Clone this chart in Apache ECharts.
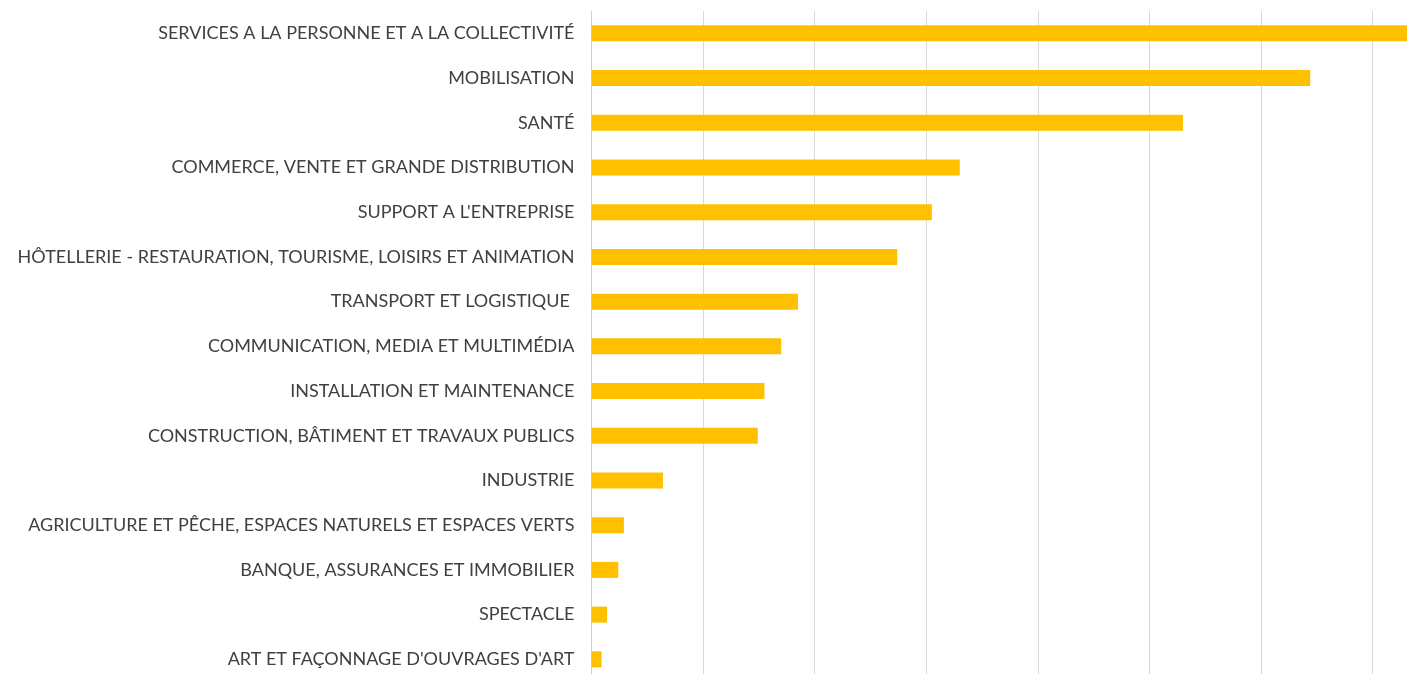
<!DOCTYPE html>
<html>
<head>
<meta charset="utf-8">
<script src="https://cdn.jsdelivr.net/npm/echarts@6/dist/echarts.min.js"></script>
<style>
html,body{margin:0;padding:0;background:#fff;}
#chart{width:1407px;height:674px;}
</style>
</head>
<body>
<div id="chart"></div>
<script>
const categories = [
  "SERVICES A LA PERSONNE ET A LA COLLECTIVITÉ",
  "MOBILISATION",
  "SANTÉ",
  "COMMERCE, VENTE ET GRANDE DISTRIBUTION",
  "SUPPORT A L'ENTREPRISE",
  "HÔTELLERIE - RESTAURATION, TOURISME, LOISIRS ET ANIMATION",
  "TRANSPORT ET LOGISTIQUE ",
  "COMMUNICATION, MEDIA ET MULTIMÉDIA",
  "INSTALLATION ET MAINTENANCE",
  "CONSTRUCTION, BÂTIMENT ET TRAVAUX PUBLICS",
  "INDUSTRIE",
  "AGRICULTURE ET PÊCHE, ESPACES NATURELS ET ESPACES VERTS",
  "BANQUE, ASSURANCES ET IMMOBILIER",
  "SPECTACLE",
  "ART ET FAÇONNAGE D'OUVRAGES D'ART"
];
const values = [780, 644, 530, 330, 305, 274, 185, 170, 155, 149, 64, 29, 24, 14, 9];
const axisMax = 800;
const axisInterval = 100;

const chart = echarts.init(document.getElementById('chart'), null, {renderer: 'canvas'});
chart.setOption({
  animation: false,
  backgroundColor: '#ffffff',
  grid: {left: 591.5, top: 11, width: 892.8, height: 670.7, containLabel: false, outerBoundsMode: 'none'},
  xAxis: {
    type: 'value',
    min: 0,
    max: axisMax,
    interval: axisInterval,
    axisLabel: {show: false},
    axisLine: {show: false},
    axisTick: {show: false},
    splitLine: {show: true, lineStyle: {color: '#D9D9D9', width: 1}}
  },
  yAxis: {
    type: 'category',
    data: categories,
    inverse: true,
    axisLine: {show: true, lineStyle: {color: '#D0D0D0', width: 1}},
    axisTick: {show: false},
    axisLabel: {
      margin: 17,
      color: '#404040',
      fontFamily: 'Lato',
      fontSize: 18
    }
  },
  series: [{
    type: 'bar',
    data: values,
    barWidth: 16,
    itemStyle: {color: '#FFC000'}
  }]
});
</script>
</body>
</html>
